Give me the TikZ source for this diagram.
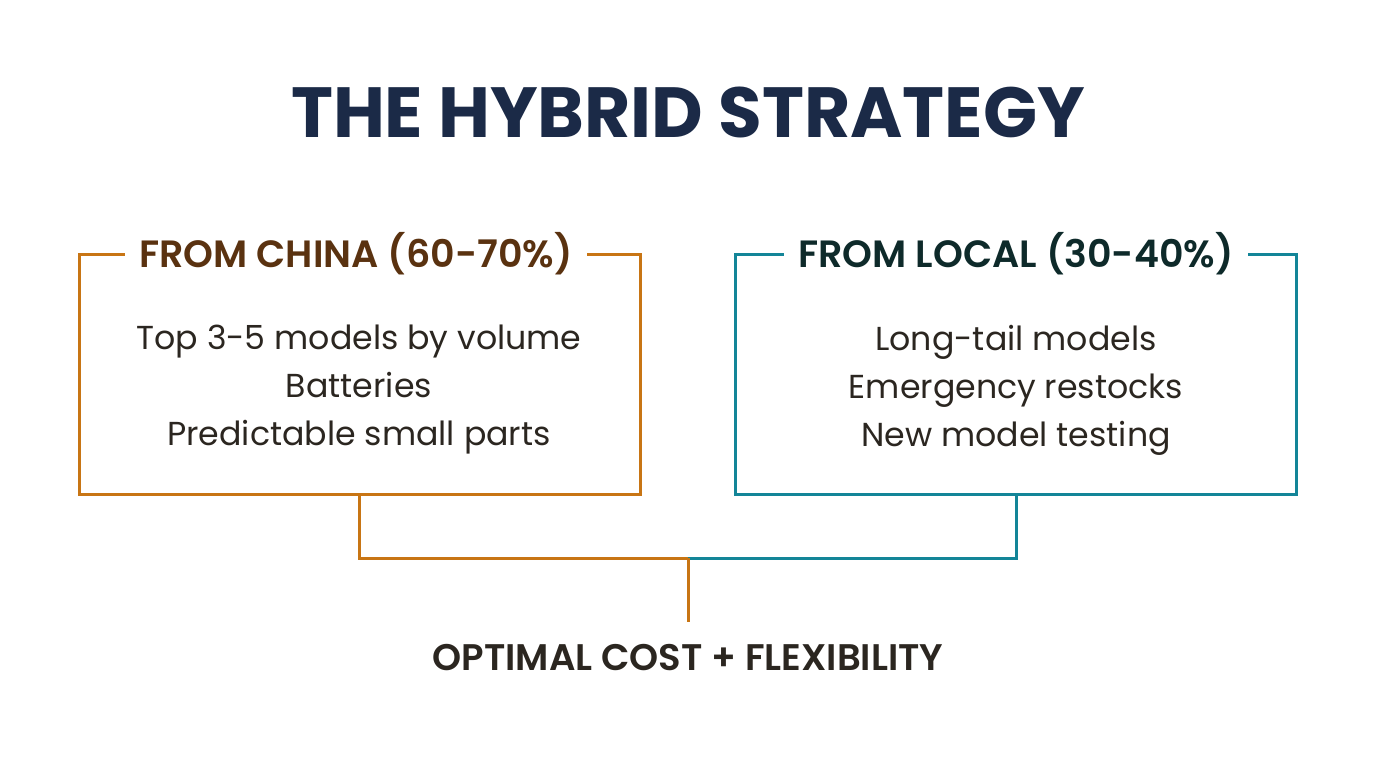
\documentclass[tikz,border=0pt]{standalone}
\usepackage{fontspec}
\setmainfont{Poppins}[BoldFont={Poppins SemiBold}]
\newfontfamily\titlefont{Poppins}[UprightFont={Poppins Bold}]
\definecolor{china}{HTML}{C87514}
\definecolor{local}{HTML}{138598}
\definecolor{navy}{HTML}{1B2A47}
\definecolor{brownhead}{HTML}{5A3210}
\definecolor{tealhead}{HTML}{0E2A2A}
\definecolor{bodytext}{HTML}{2B2620}
\begin{document}
\begin{tikzpicture}[x=0.5pt, y=-0.5pt,
    panel/.style = {draw, line width=1.5pt, minimum width=280.5pt, minimum height=120pt},
    head/.style = {fill=white, inner xsep=7pt, font=\fontsize{19}{22}\selectfont\bfseries},
    items/.style = {align=center, text=bodytext, font=\fontsize{16.6}{24}\selectfont},
    link/.style = {line width=1.5pt}]
    \useasboundingbox (0, 0) rectangle (1376, 768);
    \node at (688, 112) [text=navy, font=\fontsize{35.5}{40}\titlefont] (title) {THE HYBRID STRATEGY};

    \node at (359.5, 374) [panel, draw=china] (chinabox) {};
    \node at (356, 254) [head, text=brownhead] (chinahead) {FROM CHINA (60-70\%)};
    \node at (359, 390) [items] (chinaitems) {Top 3-5 models by volume\\Batteries\\Predictable small parts};

    \node at (1016, 374) [panel, draw=local] (localbox) {};
    \node at (1016, 254) [head, text=tealhead] (localhead) {FROM LOCAL (30-40\%)};
    \node at (1016, 390) [items] (localitems) {Long-tail models\\Emergency restocks\\New model testing};

    \coordinate (join) at (688, 558);
    \coordinate (drop) at (688, 622);
    \node at (688, 658) [text=bodytext, font=\fontsize{18.5}{20}\selectfont\bfseries] (result) {OPTIMAL COST + FLEXIBILITY};

    \draw [link, china] (chinabox.south) |- (join);
    \draw [link, local] (localbox.south) |- (join);
    \draw [link, china] (join) -- (drop);
\end{tikzpicture}
\end{document}
